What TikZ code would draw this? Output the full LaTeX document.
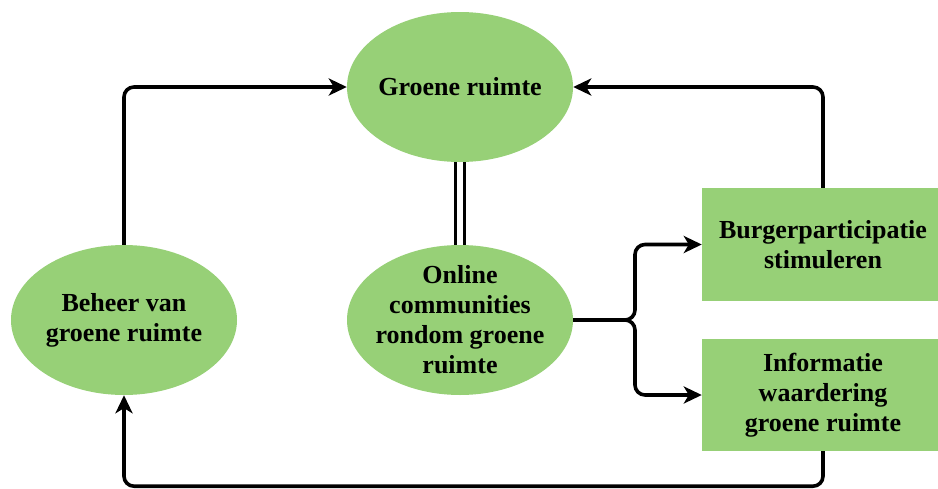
\documentclass[tikz,border=0pt]{standalone}
\usepackage{fontspec}
\setmainfont{Liberation Serif}
\usetikzlibrary{shapes.geometric,arrows.meta}
\definecolor{leaf}{HTML}{97D077}
\begin{document}
\begin{tikzpicture}[x=1pt,y=-1pt,
  txt/.style={font=\bfseries\fontsize{26}{30}\selectfont, align=center, inner sep=0pt},
  oval/.style={txt, ellipse, fill=leaf, minimum width=226, minimum height=150, inner sep=-15pt},
  box/.style={txt, rectangle, fill=leaf, minimum width=242},
  conn/.style={line width=3.6pt, rounded corners=10pt},
  arr/.style={conn, -{Stealth[length=18pt,width=17pt,inset=5pt]}}]
\useasboundingbox (0,0) rectangle (938,488);
\clip (0,0) rectangle (938,488);
\node[oval] (G) at (460,87) {Groene ruimte};
\node[oval] (O) at (460,320) {Online\\communities\\rondom groene\\ruimte};
\node[oval] (B) at (124,320) {Beheer van\\groene ruimte};
\node[box, minimum height=113] (P) at (823,244.5) {Burgerparticipatie\\stimuleren};
\node[box, minimum height=112] (I) at (823,395) {Informatie\\waardering\\groene ruimte};
\coordinate (J) at (635,320);
\draw[arr] (B.north) |- (G.west);
\draw[arr] (P.north) |- (G.east);
\draw[arr] (I.south) -- ++(0,35) -| (B.south);
\draw[line width=3.6pt] ([xshift=-4.5pt]G.south) -- ([xshift=-4.5pt]O.north);
\draw[line width=3.6pt] ([xshift=4.5pt]G.south) -- ([xshift=4.5pt]O.north);
\draw[arr] (O.east) -- (J) |- (P.west);
\draw[arr] (O.east) -- (J) |- (I.west);
\end{tikzpicture}
\end{document}
